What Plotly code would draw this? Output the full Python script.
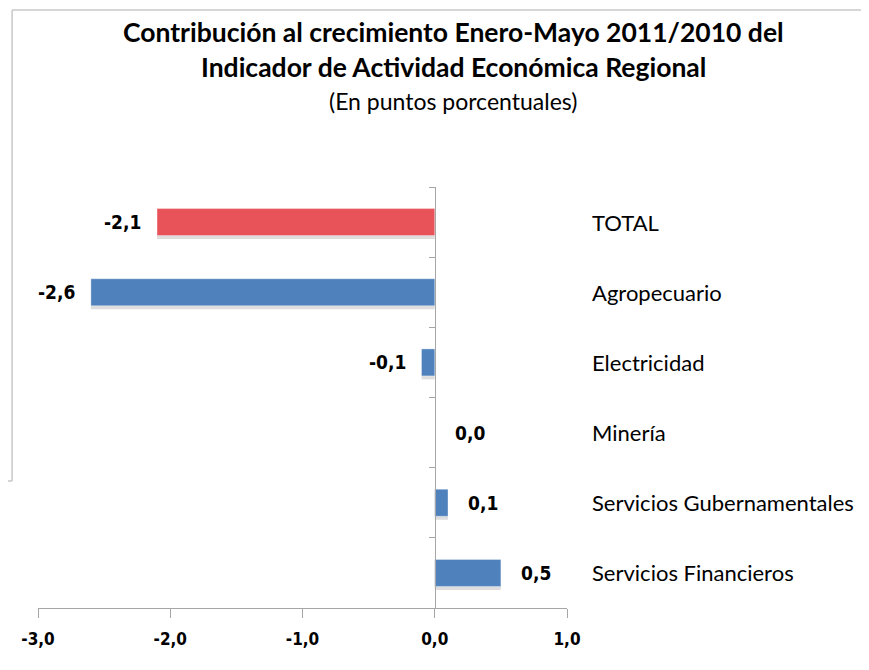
import plotly.graph_objects as go

# datos: contribución en puntos porcentuales
sectores = ["TOTAL", "Agropecuario", "Electricidad", "Minería",
            "Servicios Gubernamentales", "Servicios Financieros"]
valores = [-2.1, -2.6, -0.1, 0.0, 0.1, 0.5]
colores = ["#E8535A", "#4F81BD", "#4F81BD", "#4F81BD", "#4F81BD", "#4F81BD"]

x_ticks = [-3, -2, -1, 0, 1]
x_tick_text = ["-3,0", "-2,0", "-1,0", "0,0", "1,0"]

titulo_1 = "Contribución al crecimiento Enero-Mayo 2011/2010 del"
titulo_2 = "Indicador de Actividad Económica Regional"
subtitulo = "(En puntos porcentuales)"

FONT_COND = "DejaVu Sans Condensed, sans-serif"
FONT_REG = "Lato, Open Sans, sans-serif"

ANCHO_BARRA = 0.385


def fmt(v):
    return f"{v:.1f}".replace(".", ",")


fig = go.Figure()
# sombra suave bajo las barras (estilo Excel)
fig.add_trace(go.Bar(
    x=valores,
    y=sectores,
    orientation="h",
    width=ANCHO_BARRA,
    offset=-ANCHO_BARRA / 2 + 0.05,
    marker=dict(color="rgba(0,0,0,0.13)", line=dict(width=0)),
    hoverinfo="skip",
    showlegend=False,
))
fig.add_trace(go.Bar(
    x=valores,
    y=sectores,
    orientation="h",
    width=ANCHO_BARRA,
    offset=-ANCHO_BARRA / 2,
    marker=dict(color=colores, line=dict(color="rgba(255,255,255,0.35)", width=1)),
    hoverinfo="skip",
    showlegend=False,
))

# etiquetas de valor y nombres de sector
for s, v in zip(sectores, valores):
    izq = v < 0
    fig.add_annotation(
        x=v, y=s, xref="x", yref="y",
        text=f"<b>{fmt(v)}</b>",
        showarrow=False,
        xanchor="right" if izq else "left",
        xshift=-14 if izq else 18,
        font=dict(family=FONT_COND, size=19, color="black"),
    )
    fig.add_annotation(
        x=1.0435, y=s, xref="paper", yref="y",
        text=s,
        showarrow=False,
        xanchor="left",
        font=dict(family=FONT_REG, size=22, color="black"),
    )

fig.add_annotation(x=0.7845, y=1.368, xref="paper", yref="paper",
                   xanchor="center", yanchor="middle",
                   text=f"<b>{titulo_1}</b>", showarrow=False,
                   font=dict(family=FONT_REG, size=26.5, color="black"))
fig.add_annotation(x=0.7845, y=1.286, xref="paper", yref="paper",
                   xanchor="center", yanchor="middle",
                   text=f"<b>{titulo_2}</b>", showarrow=False,
                   font=dict(family=FONT_REG, size=26.5, color="black"))
fig.add_annotation(x=0.7845, y=1.204, xref="paper", yref="paper",
                   xanchor="center", yanchor="middle",
                   text=subtitulo, showarrow=False,
                   font=dict(family=FONT_REG, size=23, color="black"))

# marco de la ventana vecina (borde izquierdo y superior)
marco = dict(color="#C8C8C8", width=1.5)
fig.add_shape(type="line", xref="paper", yref="paper",
              x0=-0.049, x1=1.58, y0=1.4204, y1=1.4204, line=marco)
fig.add_shape(type="line", xref="paper", yref="paper",
              x0=-0.049, x1=-0.049, y0=1.4204, y1=0.3017, line=marco)
fig.add_shape(type="line", xref="paper", yref="paper",
              x0=-0.07, x1=-0.049, y0=0.3017, y1=0.3017, line=marco)

fig.update_layout(
    width=861, height=663,
    margin=dict(l=30, r=302, t=179, b=63),
    paper_bgcolor="white", plot_bgcolor="white",
    barmode="overlay",
    xaxis=dict(
        range=[-3, 1],
        tickvals=x_ticks, ticktext=x_tick_text,
        showgrid=False, zeroline=False,
        showline=True, linecolor="#A6A6A6", linewidth=1,
        ticks="outside", ticklen=9, tickcolor="#A6A6A6",
        tickfont=dict(family=FONT_COND, size=17, color="black", weight="bold"),
        ticklabelstandoff=7,
    ),
    yaxis=dict(
        categoryorder="array", categoryarray=sectores,
        range=[5.5, -0.5],
        anchor="free", position=0.75,
        showgrid=False, zeroline=False,
        showline=True, linecolor="#A6A6A6", linewidth=1,
        ticks="outside", ticklen=6, tickcolor="#A6A6A6",
        tickson="boundaries",
        showticklabels=False,
    ),
)

fig.write_html("out.html")
